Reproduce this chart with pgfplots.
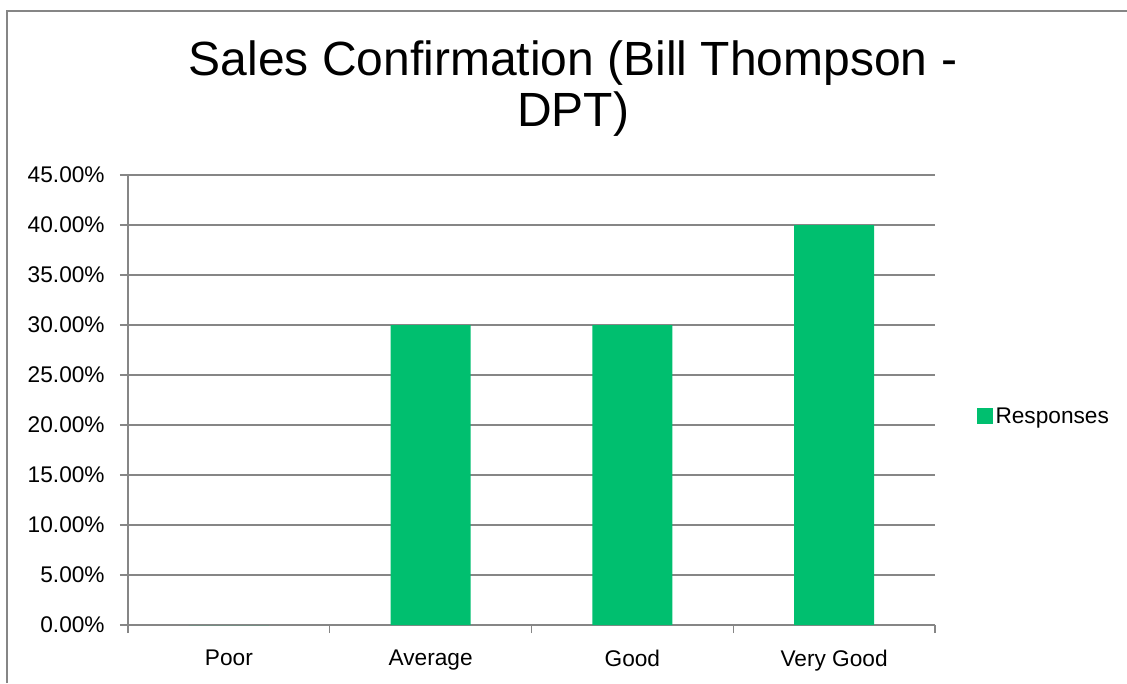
\documentclass[border=0pt]{standalone}
\usepackage{pgfplots}
\pgfplotsset{compat=1.18}
\usepackage{fontspec}
\setmainfont{Liberation Sans}
\definecolor{barg}{RGB}{0,191,111}
\definecolor{axg}{RGB}{134,134,134}
\begin{document}
\begin{tikzpicture}
\useasboundingbox (0pt,0pt) rectangle (845.25pt,512.25pt);
\draw[axg,line width=1.5pt] (5.25pt,0pt) -- (5.25pt,504pt) -- (845.25pt,504pt);
\node[align=center,font=\fontsize{36}{38}\selectfont,inner sep=0pt] at (429.75pt,446pt) {Sales Confirmation (Bill Thompson -\\DPT)};
\begin{axis}[
  at={(96pt,43.5pt)}, anchor=south west,
  width=605.25pt, height=337.5pt, scale only axis,
  xmin=-0.5, xmax=3.5, ymin=0, ymax=45,
  axis x line*=bottom, axis y line*=left,
  axis line style={axg, line width=1pt},
  xtick={0,1,2,3},
  xticklabels={Poor,Average,Good,Very Good},
  minor xtick={-0.5,0.5,1.5,2.5,3.5},
  ytick={0,5,...,45},
  yticklabel={\pgfmathprintnumber[fixed,fixed zerofill,precision=2]{\tick}\%},
  /pgf/number format/assume math mode=true,
  tick label style={font=\fontsize{17}{19}\selectfont, black},
  ymajorgrids, grid style={axg, line width=1pt},
  major x tick style={draw=none},
  minor x tick style={axg, line width=1pt},
  major y tick style={axg, line width=1pt},
  tick align=outside,
  major tick length=6pt, minor tick length=6pt,
  xticklabel style={yshift=-9pt},
  yticklabel style={xshift=-8pt},
  legend style={at={(1.0515,0.462)}, anchor=west, draw=none, fill=none,
    font=\fontsize{17}{19}\selectfont, inner sep=0pt,
    legend cell align=left,
    /tikz/every even column/.append style={column sep=3pt}},
  legend image code/.code={\fill[barg] (0pt,-5.5pt) rectangle (12pt,6.5pt);},
]
\addplot[ybar, bar width=0.396, fill=barg, draw=none] coordinates {(0,0) (1,30) (2,30) (3,40)};
\addlegendentry{Responses}
\end{axis}
\end{tikzpicture}
\end{document}
